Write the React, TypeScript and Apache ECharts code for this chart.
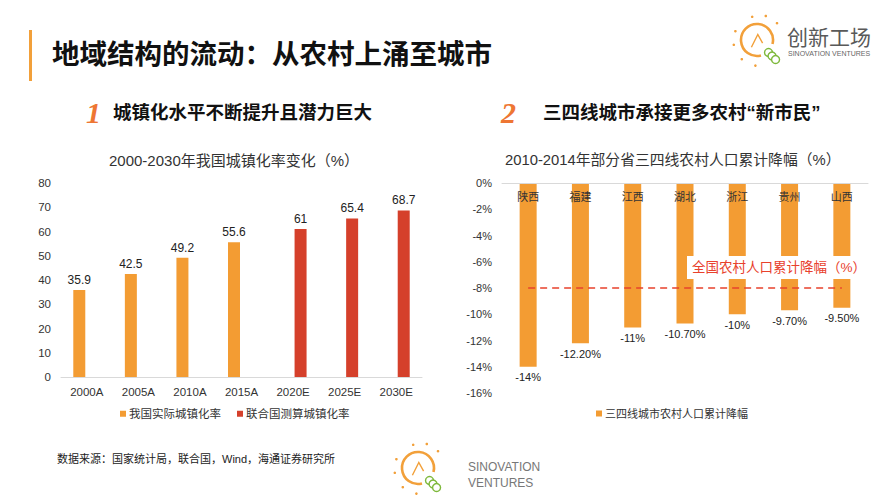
import React, { useEffect, useRef } from "react";
import * as echarts from "echarts";

const yearCats = ["2000A", "2005A", "2010A", "2015A", "2020E", "2025E", "2030E"];
const actualRate = [35.9, 42.5, 49.2, 55.6, null, null, null];
const unRate = [null, null, null, null, 61, 65.4, 68.7];
const leftYTicks = { min: 0, max: 80, interval: 10 };

const provinces = ["陕西", "福建", "江西", "湖北", "浙江", "贵州", "山西"];
const ruralDrop = [-14, -12.2, -11, -10.7, -10, -9.7, -9.5];
const ruralDropLabels = ["-14%", "-12.20%", "-11%", "-10.70%", "-10%", "-9.70%", "-9.50%"];
const nationalDrop = -8;
const rightYTicks = { min: -16, max: 0, interval: 2 };

const ORANGE = "#F39C33";
const RED = "#D5402B";
const FONT = 'Arial, "Liberation Sans", "Noto Sans CJK SC", sans-serif';

function bulb(cx: number, cy: number, r: number, s: number): any[] {
  const els: any[] = [
    {
      type: "arc",
      shape: { cx, cy, r, startAngle: Math.PI * 0.42, endAngle: Math.PI * 2.08, clockwise: true },
      style: { stroke: "#F2A03A", lineWidth: 2.6 * s, fill: null },
    },
  ];
  const dots = [
    [-1.35, -0.55], [-1.45, 0.3], [-0.95, 1.2], [-0.3, -1.45], [0.55, -1.5], [1.25, -1.05], [-0.1, 1.6],
  ];
  dots.forEach((d) => {
    els.push({ type: "circle", shape: { cx: cx + d[0] * r, cy: cy + d[1] * r, r: 1.3 * s }, style: { fill: "#F2A03A" } });
  });
  for (let i = 0; i < 3; i++) {
    els.push({
      type: "circle",
      shape: { cx: cx + r * (0.72 + i * 0.22), cy: cy + r * (0.78 + i * 0.22), r: 4 * s },
      style: { stroke: "#7DB83A", lineWidth: 1.4 * s, fill: "#fff" },
    });
  }
  els.push({
    type: "polyline",
    shape: { points: [[cx - 0.35 * r, cy + 0.45 * r], [cx + 0.05 * r, cy - 0.35 * r], [cx + 0.35 * r, cy + 0.2 * r]] },
    style: { stroke: "#F2A03A", lineWidth: 1.4 * s, fill: null },
  });
  return els;
}

export default function App() {
  const ref = useRef<HTMLDivElement>(null);
  useEffect(() => {
    if (!ref.current) return;
    const chart = echarts.init(ref.current, null, { renderer: "svg" });
    const option: any = {
      animation: false,
      backgroundColor: "#fff",
      textStyle: { fontFamily: FONT },
      title: [
        { text: "地域结构的流动：从农村上涌至城市", left: 52, top: 41, padding: 0,
          textStyle: { fontSize: 27.5, fontWeight: "bold", color: "#111", fontFamily: FONT } },
        { text: "城镇化水平不断提升且潜力巨大", left: 113, top: 103, padding: 0,
          textStyle: { fontSize: 18.5, fontWeight: "bold", color: "#111", fontFamily: FONT } },
        { text: "三四线城市承接更多农村“新市民”", left: 543, top: 103, padding: 0,
          textStyle: { fontSize: 18.5, fontWeight: "bold", color: "#111", fontFamily: FONT } },
        { text: "2000-2030年我国城镇化率变化（%）", left: 109, top: 153, padding: 0,
          textStyle: { fontSize: 15, fontWeight: "normal", color: "#333", fontFamily: FONT } },
        { text: "2010-2014年部分省三四线农村人口累计降幅（%）", left: 505, top: 153, padding: 0,
          textStyle: { fontSize: 14.8, fontWeight: "normal", color: "#333", fontFamily: FONT } },
      ],
      legend: [
        { data: ["我国实际城镇化率", "联合国测算城镇化率"], left: 120, top: 408, padding: 0,
          icon: "rect", itemWidth: 6, itemHeight: 6, itemGap: 16,
          textStyle: { fontSize: 11.5, color: "#333", padding: [0, 0, 0, -2] } },
        { data: ["三四线城市农村人口累计降幅"], left: 596, top: 408, padding: 0,
          icon: "rect", itemWidth: 6, itemHeight: 6,
          textStyle: { fontSize: 11, color: "#333", padding: [0, 0, 0, -2] } },
      ],
      grid: [
        { left: 61, top: 183, width: 361, height: 194 },
        { left: 502, top: 183, width: 366, height: 210 },
      ],
      xAxis: [
        { type: "category", gridIndex: 0, data: yearCats,
          axisLine: { lineStyle: { color: "#D9D9D9" } }, axisTick: { show: false },
          axisLabel: { fontSize: 11.5, color: "#333", margin: 9 } },
        { type: "category", gridIndex: 1, data: provinces, position: "top", z: 10,
          axisLine: { lineStyle: { color: "#D9D9D9" } }, axisTick: { show: false },
          axisLabel: { inside: true, fontSize: 11, color: "#333", margin: 8 } },
      ],
      yAxis: [
        { type: "value", gridIndex: 0, ...leftYTicks,
          axisLine: { show: false }, axisTick: { show: false }, splitLine: { show: false },
          axisLabel: { fontSize: 11.5, color: "#333", margin: 10 } },
        { type: "value", gridIndex: 1, ...rightYTicks,
          axisLine: { show: false }, axisTick: { show: false }, splitLine: { show: false },
          axisLabel: { fontSize: 11, color: "#333", margin: 10, formatter: "{value}%" } },
      ],
      series: [
        { type: "bar", name: "我国实际城镇化率", xAxisIndex: 0, yAxisIndex: 0, data: actualRate,
          barWidth: 12, barGap: "25%", itemStyle: { color: ORANGE },
          label: { show: true, position: "top", distance: 4, fontSize: 12, color: "#222" } },
        { type: "bar", name: "联合国测算城镇化率", xAxisIndex: 0, yAxisIndex: 0, data: unRate,
          barWidth: 12, barGap: "25%", itemStyle: { color: RED },
          label: { show: true, position: "top", distance: 4, fontSize: 12, color: "#222" } },
        { type: "bar", name: "三四线城市农村人口累计降幅", xAxisIndex: 1, yAxisIndex: 1, data: ruralDrop,
          barWidth: 17, itemStyle: { color: ORANGE },
          label: { show: true, position: "bottom", distance: 5, fontSize: 11, color: "#222",
            formatter: (p: any) => ruralDropLabels[p.dataIndex] },
          markLine: {
            silent: true, symbol: "none",
            lineStyle: { type: [7, 5], color: "#E8412C", width: 1.5 },
            label: { show: false },
            data: [[{ xAxis: 0, yAxis: nationalDrop }, { xAxis: 6, yAxis: nationalDrop }]],
          } },
      ],
      graphic: [
        { type: "rect", shape: { x: 29, y: 30, width: 3, height: 51 }, style: { fill: "#F2A03A" } },
        { type: "text", left: 86, top: 97, style: { text: "1", fontSize: 30, fontStyle: "italic", fontWeight: "bold", fill: "#EE7633", fontFamily: "Georgia, serif" } },
        { type: "text", left: 501, top: 97, style: { text: "2", fontSize: 30, fontStyle: "italic", fontWeight: "bold", fill: "#EE7633", fontFamily: "Georgia, serif" } },
        { type: "rect", z: 100, shape: { x: 687, y: 256, width: 170, height: 23 }, style: { fill: "#fff" } },
        { type: "text", z: 101, x: 692, y: 267,
          style: { text: "全国农村人口累计降幅（%）", fontSize: 13.5, fill: "#E8412C", verticalAlign: "middle", fontFamily: FONT } },
        ...bulb(757, 40, 16, 1),
        { type: "text", x: 787, y: 37, style: { text: "创新工场", fontSize: 21, fill: "#595959", verticalAlign: "middle", fontFamily: FONT } },
        { type: "text", x: 788, y: 53, style: { text: "SINOVATION VENTURES", fontSize: 7, fill: "#666", verticalAlign: "middle", fontFamily: FONT } },
        { type: "text", x: 57, y: 459, style: { text: "数据来源：国家统计局，联合国，Wind，海通证券研究所", fontSize: 11, fill: "#222", verticalAlign: "middle", fontFamily: FONT } },
        ...bulb(418, 468, 16, 1),
        { type: "text", x: 468, y: 467, style: { text: "SINOVATION", fontSize: 12, fill: "#777", verticalAlign: "middle", fontFamily: FONT } },
        { type: "text", x: 468, y: 483, style: { text: "VENTURES", fontSize: 12, fill: "#777", verticalAlign: "middle", fontFamily: FONT } },
      ],
    };
    chart.setOption(option);
    return () => chart.dispose();
  }, []);
  return <div ref={ref} style={{ position: "absolute", left: 0, top: 0, width: 893, height: 500 }} />;
}
